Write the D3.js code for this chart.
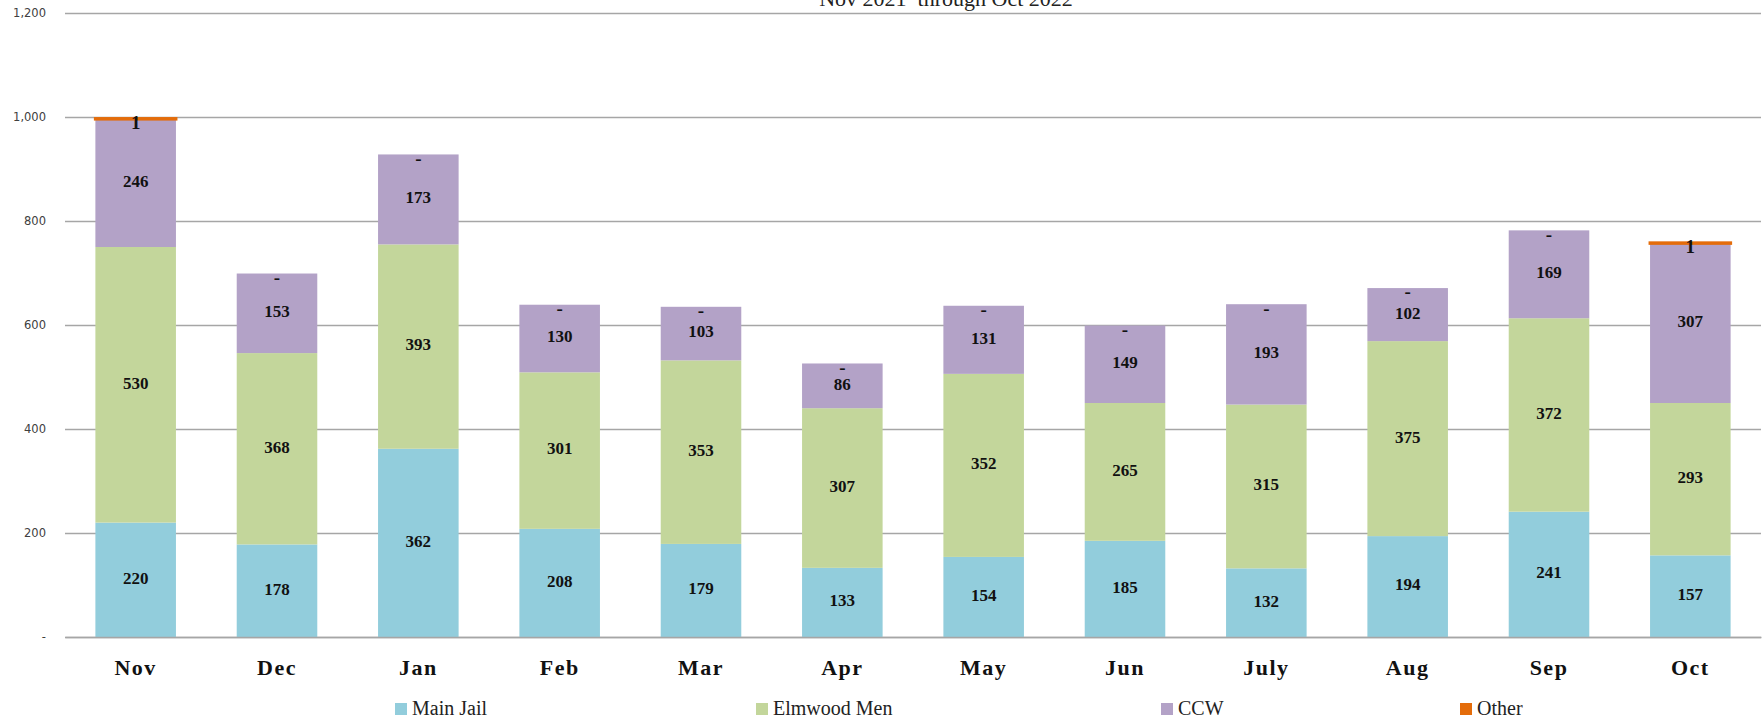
<!DOCTYPE html>
<html>
<head>
<meta charset="utf-8">
<script src="https://cdn.jsdelivr.net/npm/d3@7"></script>
<style>
  body { margin: 0; background: #fff; }
  svg { display: block; }
</style>
</head>
<body>
<script>
const months = ["Nov", "Dec", "Jan", "Feb", "Mar", "Apr", "May", "Jun", "July", "Aug", "Sep", "Oct"];
const seriesNames = ["Main Jail", "Elmwood Men", "CCW", "Other"];
const mainJail = [220, 178, 362, 208, 179, 133, 154, 185, 132, 194, 241, 157];
const elmwoodMen = [530, 368, 393, 301, 353, 307, 352, 265, 315, 375, 372, 293];
const ccw = [246, 153, 173, 130, 103, 86, 131, 149, 193, 102, 169, 307];
const other = [1, 0, 0, 0, 0, 0, 0, 0, 0, 0, 0, 1];
const yTicks = [0, 200, 400, 600, 800, 1000, 1200];
const seriesColors = ["#92cddc", "#c3d69b", "#b3a2c7", "#e46c0a"];

const chart = {
    width: 1764,
    height: 718,
    margin: { top: 13, left: 65, right: 3, bottom: 81 }
};

const rows = months.map((m, i) => ({
    month: m,
    "Main Jail": mainJail[i],
    "Elmwood Men": elmwoodMen[i],
    "CCW": ccw[i],
    "Other": other[i]
}));

const svg = d3.select("body").append("svg")
    .attr("width", chart.width)
    .attr("height", chart.height);

const x = d3.scaleBand()
    .domain(months)
    .range([chart.margin.left, chart.width - chart.margin.right])
    .paddingInner(0.43)
    .paddingOuter(0.215);

const y = d3.scaleLinear()
    .domain([0, 1200])
    .range([chart.height - chart.margin.bottom, chart.margin.top]);

const color = d3.scaleOrdinal().domain(seriesNames).range(seriesColors);

// title (top is cut off in the original)
svg.append("text")
    .attr("x", 946)
    .attr("y", 6)
    .attr("text-anchor", "middle")
    .style("font-family", "'Liberation Serif', serif")
    .style("font-size", "22px")
    .style("fill", "#222")
    .text("Nov 2021\u00a0 through Oct 2022");

// gridlines + y labels
const yAxis = d3.axisLeft(y)
    .tickValues(yTicks)
    .tickSize(-(chart.width - chart.margin.left - chart.margin.right))
    .tickPadding(19)
    .tickFormat(d => d === 0 ? "-" : d3.format(",")(d));

svg.append("g")
    .attr("transform", `translate(${chart.margin.left},0)`)
    .call(yAxis)
    .call(g => g.select(".domain").remove())
    .call(g => g.selectAll(".tick line").attr("stroke", "#a6a6a6").attr("stroke-width", 1.5))
    .call(g => g.selectAll(".tick text")
        .style("font-family", "'DejaVu Sans', sans-serif")
        .style("font-size", "11.5px")
        .style("fill", "#404040"));

const stacked = d3.stack().keys(seriesNames)(rows);

const layers = svg.append("g").selectAll("g")
    .data(stacked)
    .join("g")
    .attr("fill", d => color(d.key));

layers.selectAll("rect")
    .data(d => d.map(p => Object.assign(p, { key: d.key })))
    .join("rect")
    .attr("x", d => x(d.data.month))
    .attr("width", x.bandwidth())
    .attr("y", d => y(d[1]))
    .attr("height", d => y(d[0]) - y(d[1]))
    .attr("stroke", d => d.key === "Other" && d.data.Other > 0 ? color("Other") : "none")
    .attr("stroke-width", 3);

// segment labels
const labels = svg.append("g")
    .style("font-family", "'Liberation Serif', serif")
    .style("fill", "#111");

stacked.forEach(layer => {
    labels.selectAll(null)
        .data(layer)
        .join("text")
        .attr("x", d => x(d.data.month) + x.bandwidth() / 2)
        .attr("y", d => layer.key === "Other" ? y(d[1]) + 6 : (y(d[0]) + y(d[1])) / 2)
        .attr("text-anchor", "middle")
        .attr("dominant-baseline", "middle")
        .style("font-weight", "bold")
        .style("font-size", layer.key === "Other" ? "19px" : "17px")
        .text(d => {
            const v = d.data[layer.key];
            return v === 0 ? "-" : v;
        });
});

// x axis
const xAxis = d3.axisBottom(x).tickSize(0).tickPadding(22);
svg.append("g")
    .attr("transform", `translate(0,${y(0)})`)
    .call(xAxis)
    .call(g => g.select(".domain").attr("stroke", "#a6a6a6").attr("stroke-width", 1.5))
    .call(g => g.selectAll(".tick text")
        .style("font-family", "'Liberation Serif', serif")
        .style("font-weight", "bold")
        .style("font-size", "22px")
        .style("letter-spacing", "1.5px")
        .style("fill", "#111"));

// legend
const legendX = [395, 756, 1161, 1460];
const legendY = 709;
const legend = svg.append("g").selectAll("g")
    .data(seriesNames)
    .join("g")
    .attr("transform", (d, i) => `translate(${legendX[i]},${legendY})`);

legend.append("rect")
    .attr("x", 0)
    .attr("y", -6)
    .attr("width", 12)
    .attr("height", 12)
    .attr("fill", d => color(d));

legend.append("text")
    .attr("x", 17)
    .attr("y", 6)
    .style("font-family", "'Liberation Serif', serif")
    .style("font-size", "20px")
    .style("fill", "#222")
    .text(d => d);
</script>
</body>
</html>
